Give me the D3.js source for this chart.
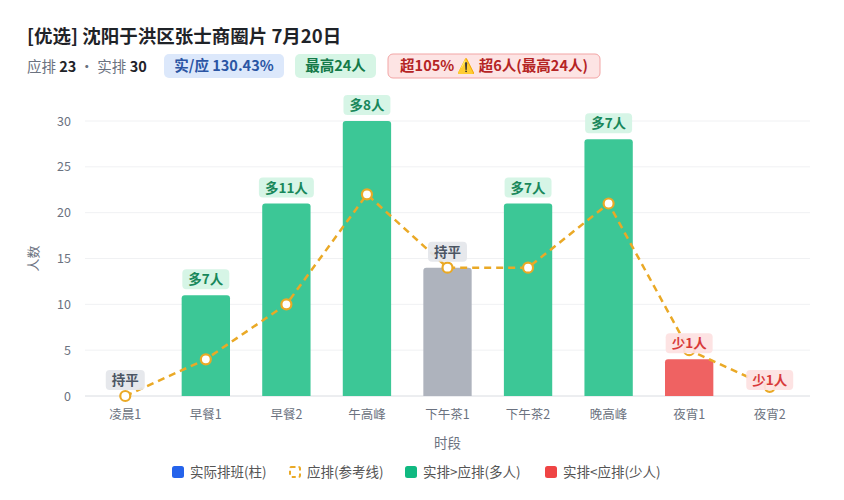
<!DOCTYPE html>
<html>
<head>
<meta charset="utf-8">
<script src="https://cdn.jsdelivr.net/npm/d3@7"></script>
<style>
  body { margin: 0; background: #fff; font-family: "Noto Sans CJK SC", "Noto Sans", sans-serif; }
  svg { display: block; }
</style>
</head>
<body>
<svg id="chart" width="844" height="500"></svg>
<script>
const periods = ['凌晨1', '早餐1', '早餐2', '午高峰', '下午茶1', '下午茶2', '晚高峰', '夜宵1', '夜宵2'];
const actual = [0, 11, 21, 30, 14, 21, 28, 4, 0];
const planned = [0, 4, 10, 22, 14, 14, 21, 5, 1];
const yTicks = [0, 5, 10, 15, 20, 25, 30];

const colors = { over: '#3cc796', even: '#aeb3bd', under: '#ef6262', line: '#eaa926' };
const badge = {
  over: { bg: '#d3f4e4', fg: '#18875a' },
  even: { bg: '#e4e6ea', fg: '#4b5563' },
  under: { bg: '#fde1e1', fg: '#d83a3a' }
};

const svg = d3.select('#chart');
const m = { left: 85, right: 34, top: 121, bottom: 104 };
const W = 844, H = 500;

const x = d3.scaleBand().domain(periods).range([m.left, W - m.right]).paddingInner(0.4).paddingOuter(0.2);
const y = d3.scaleLinear().domain([0, 30]).range([H - m.bottom, m.top]);

// header
svg.append('text').attr('x', 27).attr('y', 43)
  .attr('font-size', 18.5).attr('font-weight', 700).attr('fill', '#1f2328')
  .text('[优选] 沈阳于洪区张士商圈片 7月20日');

const sub = svg.append('text').attr('x', 27).attr('y', 72).attr('font-size', 14.5).attr('fill', '#6b7280');
sub.append('tspan').text('应排 ');
sub.append('tspan').attr('font-weight', 700).attr('fill', '#1f2328').text('23');
sub.append('tspan').text(' · 实排 ');
sub.append('tspan').attr('font-weight', 700).attr('fill', '#1f2328').text('30');

const pills = [
  { x: 164, w: 120, text: '实/应 130.43%', bg: '#dce8fb', fg: '#2a55a4', stroke: 'none' },
  { x: 295, w: 81, text: '最高24人', bg: '#d6f5e5', fg: '#147a49', stroke: 'none' },
  { x: 388, w: 212, text: '超105% ⚠️ 超6人(最高24人)', bg: '#fde4e4', fg: '#b52424', stroke: '#f2a5a5' }
];
pills.forEach(p => {
  svg.append('rect').attr('x', p.x).attr('y', 54).attr('width', p.w).attr('height', 24).attr('rx', 5)
    .attr('fill', p.bg).attr('stroke', p.stroke);
  svg.append('text').attr('x', p.x + p.w / 2).attr('y', 71).attr('text-anchor', 'middle')
    .attr('font-size', 14.5).attr('font-weight', 700).attr('fill', p.fg).text(p.text);
});

// grid
svg.append('g').selectAll('line').data(yTicks).join('line')
  .attr('x1', m.left).attr('x2', W - m.right)
  .attr('y1', d => y(d)).attr('y2', d => y(d))
  .attr('stroke', d => d === 0 ? '#d9dce1' : '#f0f1f3');

// y axis
const yAxis = svg.append('g').attr('transform', `translate(${m.left},0)`)
  .call(d3.axisLeft(y).tickValues(yTicks).tickSize(0).tickPadding(14));
yAxis.select('.domain').remove();
yAxis.selectAll('text').attr('font-size', 12.5).attr('fill', '#6b7280').attr('font-family', 'Noto Sans CJK SC');

svg.append('text').attr('transform', `translate(38,${(y(0) + y(30)) / 2}) rotate(-90)`)
  .attr('text-anchor', 'middle').attr('font-size', 13).attr('fill', '#6b7280').text('人数');

// x axis
const xAxis = svg.append('g').attr('transform', `translate(0,${y(0)})`)
  .call(d3.axisBottom(x).tickSize(0).tickPadding(14));
xAxis.select('.domain').remove();
xAxis.selectAll('text').attr('font-size', 12.5).attr('fill', '#6b7280').attr('font-family', 'Noto Sans CJK SC');

svg.append('text').attr('x', (m.left + W - m.right) / 2).attr('y', 448)
  .attr('text-anchor', 'middle').attr('font-size', 13.5).attr('fill', '#6b7280').text('时段');

const status = i => actual[i] > planned[i] ? 'over' : actual[i] < planned[i] ? 'under' : 'even';

// bars with rounded top corners
const rTop = 3;
svg.append('g').selectAll('path').data(periods).join('path')
  .attr('fill', (d, i) => colors[status(i)])
  .attr('d', (d, i) => {
    const x0 = x(d), w = x.bandwidth(), y0 = y(0), y1 = y(actual[i]);
    const h = y0 - y1;
    if (h <= 0) return '';
    const r = Math.min(rTop, h);
    return `M${x0},${y0}V${y1 + r}Q${x0},${y1} ${x0 + r},${y1}H${x0 + w - r}Q${x0 + w},${y1} ${x0 + w},${y1 + r}V${y0}Z`;
  });

// planned line
const cx = d => x(d) + x.bandwidth() / 2;
const line = d3.line().x((d, i) => cx(periods[i])).y(d => y(d));
svg.append('path').datum(planned)
  .attr('d', line).attr('fill', 'none')
  .attr('stroke', colors.line).attr('stroke-width', 2.5).attr('stroke-dasharray', '7,5');

svg.append('g').selectAll('circle').data(planned).join('circle')
  .attr('cx', (d, i) => cx(periods[i])).attr('cy', d => y(d)).attr('r', 5)
  .attr('fill', '#fff').attr('stroke', colors.line).attr('stroke-width', 2.2);

// diff badges
const labelText = i => {
  const diff = actual[i] - planned[i];
  return diff > 0 ? `多${diff}人` : diff < 0 ? `少${-diff}人` : '持平';
};
const labels = svg.append('g').selectAll('g').data(periods).join('g')
  .attr('transform', (d, i) => `translate(${cx(d)},${y(actual[i]) - 16})`);
const badgeRect = labels.append('rect')
  .attr('y', -10).attr('height', 20).attr('rx', 4)
  .attr('fill', (d, i) => badge[status(i)].bg).attr('opacity', 0.92);
const badgeText = labels.append('text').attr('text-anchor', 'middle').attr('y', 5)
  .attr('font-size', 13.5).attr('font-weight', 700)
  .attr('fill', (d, i) => badge[status(i)].fg)
  .text((d, i) => labelText(i));
badgeText.each(function (d, i) {
  const w = this.getComputedTextLength() + 12;
  d3.select(badgeRect.nodes()[i]).attr('x', -w / 2).attr('width', w);
});

// legend
const legendItems = [
  { x: 172, label: '实际排班(柱)', kind: 'box', color: '#2563eb' },
  { x: 289, label: '应排(参考线)', kind: 'dash', color: colors.line },
  { x: 405, label: '实排>应排(多人)', kind: 'box', color: '#10b981' },
  { x: 545, label: '实排<应排(少人)', kind: 'box', color: '#ef4444' }
];
const lg = svg.append('g').selectAll('g').data(legendItems).join('g')
  .attr('transform', d => `translate(${d.x},466)`);
lg.filter(d => d.kind === 'box').append('rect')
  .attr('width', 12).attr('height', 12).attr('rx', 2.5).attr('fill', d => d.color);
lg.filter(d => d.kind === 'dash').append('rect')
  .attr('x', 1).attr('y', 1).attr('width', 10).attr('height', 10).attr('rx', 1.5)
  .attr('fill', 'none').attr('stroke', d => d.color).attr('stroke-width', 2).attr('stroke-dasharray', '4,3');
lg.append('text').attr('x', 18).attr('y', 11).attr('font-size', 13.5).attr('fill', '#555')
  .text(d => d.label);
</script>
</body>
</html>
